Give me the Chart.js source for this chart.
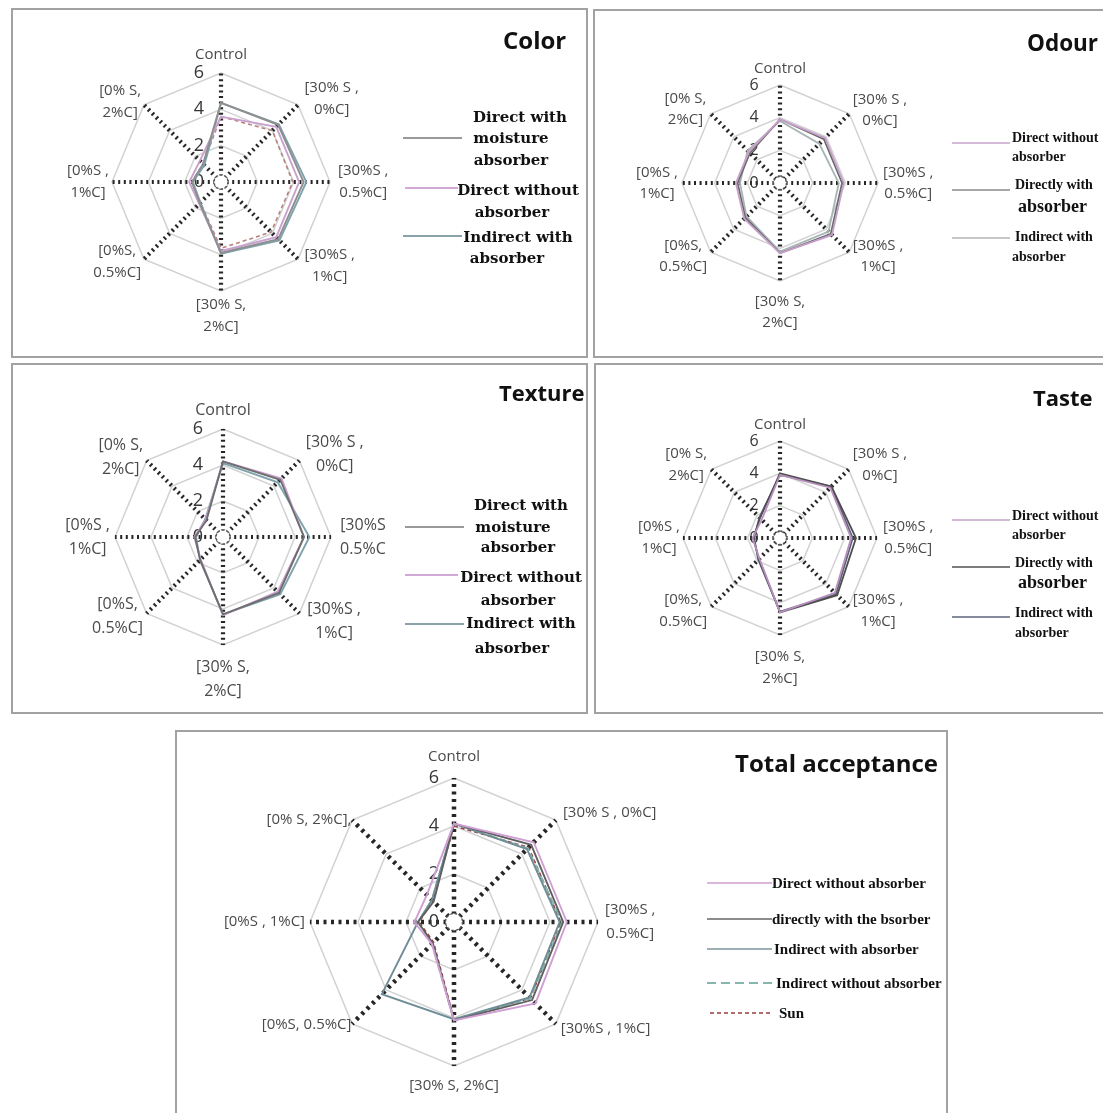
<!DOCTYPE html>
<html>
<head>
<meta charset="utf-8">
<script src="https://cdn.jsdelivr.net/npm/chart.js@4/dist/chart.umd.min.js"></script>
<style>
html,body{margin:0;padding:0;background:#fff;width:1103px;height:1113px;overflow:hidden;position:relative;}
.box{position:absolute;border:2px solid #a2a2a2;box-sizing:border-box;}
canvas{position:absolute;}
.t{position:absolute;white-space:nowrap;line-height:1.2;color:#111;}
svg{position:absolute;left:0;top:0;}
</style>
</head>
<body>
<script>
// ---------------- DATA ----------------
const scaleTicks = [0, 2, 4, 6];

const categories = ["Control", ["[30% S ,", "0%C]"], ["[30%S ,", "0.5%C]"], ["[30%S ,", "1%C]"], ["[30% S,", "2%C]"], ["[0%S,", "0.5%C]"], ["[0%S ,", "1%C]"], ["[0% S,", "2%C]"]];
const categoriesTexture = ["Control", ["[30% S ,", "0%C]"], ["[30%S", "0.5%C"], ["[30%S ,", "1%C]"], ["[30% S,", "2%C]"], ["[0%S,", "0.5%C]"], ["[0%S ,", "1%C]"], ["[0% S,", "2%C]"]];
const categoriesTotal = ["Control", "[30% S , 0%C]", ["[30%S ,", "0.5%C]"], "[30%S , 1%C]", "[30% S, 2%C]", "[0%S, 0.5%C]", "[0%S , 1%C]", "[0% S, 2%C],"];

const colorDirectWithMoisture = [4.35, 4.45, 4.55, 4.45, 3.9, 1.65, 1.6, 1.4];
const colorDirectWithout      = [3.6, 4.3, 4.3, 4.3, 3.8, 1.7, 1.75, 1.65];
const colorIndirectWith       = [4.35, 4.5, 4.7, 4.55, 3.95, 1.6, 1.55, 1.3];
const colorSun                = [3.6, 4.0, 3.95, 3.9, 3.65, 1.6, 1.6, 1.4];

const odourDirectWithout = [3.9, 3.9, 3.9, 4.5, 4.3, 3.1, 2.7, 2.7];
const odourDirectlyWith  = [3.9, 3.8, 3.8, 4.4, 4.3, 3.0, 2.6, 2.6];
const odourIndirectWith  = [3.8, 3.4, 3.6, 4.2, 4.2, 2.9, 2.45, 2.8];

const textureDirectWithMoisture = [4.2, 4.5, 4.5, 4.4, 4.3, 1.8, 1.55, 1.3];
const textureDirectWithout      = [4.2, 4.6, 4.5, 4.3, 4.35, 1.75, 1.6, 1.35];
const textureIndirectWith       = [4.1, 4.3, 4.8, 4.5, 4.3, 1.8, 1.5, 1.4];

const tasteDirectWithout = [3.9, 4.4, 4.4, 4.8, 4.6, 1.8, 1.7, 1.6];
const tasteDirectlyWith  = [4.0, 4.5, 4.7, 5.0, 4.6, 1.85, 1.65, 1.75];
const tasteIndirectWith  = [3.9, 4.5, 4.5, 4.9, 4.55, 1.9, 1.6, 1.8];

const totalDirectWithout   = [4.1, 4.7, 4.7, 4.8, 4.1, 1.3, 1.65, 1.6];
const totalDirectlyWith    = [4.1, 4.55, 4.55, 4.6, 4.1, 1.25, 1.5, 1.2];
const totalIndirectWith    = [4.1, 4.3, 4.4, 4.45, 4.05, 4.25, 1.5, 1.3];
const totalIndirectWithout = [4.1, 4.35, 4.5, 4.5, 4.1, 1.3, 1.5, 1.3];
const totalSun             = [4.0, 4.4, 4.45, 4.5, 4.05, 1.2, 1.45, 1.25];

// ---------------- DECORATION PLUGIN ----------------
const decor = {
  id: 'decor',
  beforeDatasetsDraw(chart, args, o) {
    const s = chart.scales.r, ctx = chart.ctx;
    ctx.save();
    // center hole
    ctx.beginPath();
    ctx.arc(s.xCenter, s.yCenter, o.hole, 0, Math.PI * 2);
    ctx.fillStyle = '#fff';
    ctx.fill();
    ctx.setLineDash([2.5, 2]);
    ctx.lineWidth = 1.4;
    ctx.strokeStyle = '#555';
    ctx.stroke();
    ctx.setLineDash([]);
    // tick labels
    ctx.font = o.tickSize + "px 'Open Sans'";
    ctx.fillStyle = '#363636';
    ctx.textAlign = 'center';
    ctx.textBaseline = 'middle';
    s.ticks.forEach(t => {
      const d = s.getDistanceFromCenterForValue(t.value);
      ctx.fillText(String(t.value), s.xCenter + o.tickDx, s.yCenter - d);
    });
    // point labels
    ctx.font = o.labelSize + "px 'Open Sans'";
    ctx.fillStyle = '#4a4a4a';
    const labels = chart.data.labels, n = labels.length, lh = o.lh;
    labels.forEach((lab, i) => {
      const lines = Array.isArray(lab) ? lab : [lab];
      const p = s.getPointPosition(i, s.drawingArea + o.pads[i]);
      const bw = Math.max(...lines.map(t => ctx.measureText(t).width));
      const bh = lines.length * lh;
      let left, top;
      if (i === 0) { left = p.x - bw / 2; top = p.y - bh; }
      else if (2 * i === n) { left = p.x - bw / 2; top = p.y; }
      else if (i < n / 2) { left = p.x; top = p.y - bh / 2; }
      else { left = p.x - bw; top = p.y - bh / 2; }
      lines.forEach((t, k) => ctx.fillText(t, left + bw / 2, top + lh * (k + 0.5)));
    });
    ctx.restore();
  }
};

function ds(label, data, color, width, dash) {
  return { label, data, borderColor: color, backgroundColor: 'transparent', fill: false,
           borderWidth: width, borderDash: dash || [], pointRadius: 0, tension: 0 };
}

function makeRadar(p) {
  const c = document.createElement('canvas');
  c.width = p.w; c.height = p.h;
  c.style.left = p.x + 'px'; c.style.top = p.y + 'px';
  c.style.width = p.w + 'px'; c.style.height = p.h + 'px';
  document.body.appendChild(c);
  const padding = {
    left: p.cx - p.R - p.x, top: p.cy - p.R - p.y,
    right: p.x + p.w - (p.cx + p.R), bottom: p.y + p.h - (p.cy + p.R)
  };
  new Chart(c, {
    type: 'radar',
    data: { labels: p.labels, datasets: p.datasets },
    options: {
      responsive: false, animation: false, devicePixelRatio: 1,
      layout: { padding },
      plugins: { legend: { display: false }, tooltip: { enabled: false }, title: { display: false },
                 decor: p.decor },
      scales: { r: {
        min: scaleTicks[0], max: scaleTicks[scaleTicks.length - 1],
        ticks: { stepSize: scaleTicks[1] - scaleTicks[0], display: false },
        grid: { color: '#d2d2d2', lineWidth: 1.5 },
        angleLines: { color: '#262626', lineWidth: p.axisW, borderDash: p.axisDash },
        pointLabels: { display: false }
      } }
    },
    plugins: [decor]
  });
}

// ---------------- HTML helpers ----------------
function box(x, y, w, h) {
  const d = document.createElement('div');
  d.className = 'box';
  Object.assign(d.style, { left: x + 'px', top: y + 'px', width: w + 'px', height: h + 'px' });
  document.body.appendChild(d);
}
function txt(s, x, y, font, align) {
  const d = document.createElement('div');
  d.className = 't';
  d.textContent = s;
  d.style.font = font;
  d.style.lineHeight = '1.2';
  d.style.left = x + 'px';
  d.style.top = y + 'px';
  d.style.transform = align === 'center' ? 'translate(-50%,-50%)' : 'translate(0,-50%)';
  d.style.zIndex = 3;
  document.body.appendChild(d);
}
const svgNS = 'http://www.w3.org/2000/svg';
const svg = document.createElementNS(svgNS, 'svg');
svg.setAttribute('width', 1103); svg.setAttribute('height', 1113);
svg.style.zIndex = 2;
function lgLine(x1, x2, y, color, w, dash) {
  const l = document.createElementNS(svgNS, 'line');
  l.setAttribute('x1', x1); l.setAttribute('x2', x2);
  l.setAttribute('y1', y); l.setAttribute('y2', y);
  l.setAttribute('stroke', color); l.setAttribute('stroke-width', w);
  if (dash) l.setAttribute('stroke-dasharray', dash);
  svg.appendChild(l);
}

// ---------------- PANELS ----------------
box(11, 8, 577, 350);
box(593, 9, 520, 349);
box(11, 363, 577, 351);
box(594, 363, 520, 351);
box(175, 730, 773, 400);

makeRadar({ x: 13, y: 10, w: 573, h: 346, cx: 221, cy: 182, R: 109, axisW: 4.2, axisDash: [2, 3.6],
  labels: categories,
  datasets: [
    ds('Direct with moisture absorber', colorDirectWithMoisture, '#8e8e8e', 1.9),
    ds('Direct without absorber', colorDirectWithout, '#c9a0cf', 1.9),
    ds('Indirect with absorber', colorIndirectWith, '#7ea3ad', 1.9),
    ds('Sun', colorSun, '#b98282', 1.6, [4, 3])
  ],
  decor: { hole: 7, tickSize: 18, tickDx: -22, labelSize: 15, lh: 22, pads: [7, 9, 8, 9, 3, 4, 3, 4] } });

makeRadar({ x: 595, y: 11, w: 508, h: 345, cx: 780, cy: 183, R: 98, axisW: 4.2, axisDash: [2, 3.6],
  labels: categories,
  datasets: [
    ds('Direct without absorber', odourDirectWithout, '#c79fcb', 1.8),
    ds('Directly with absorber', odourDirectlyWith, '#6a6a6a', 1.8),
    ds('Indirect with absorber', odourIndirectWith, '#a9b4b6', 1.8)
  ],
  decor: { hole: 6.5, tickSize: 16, tickDx: -26, labelSize: 15, lh: 21, pads: [6, 5, 5, 5, 10, 5, 4, 6] } });

makeRadar({ x: 13, y: 365, w: 573, h: 347, cx: 223, cy: 537, R: 108, axisW: 4.2, axisDash: [2, 3.6],
  labels: categoriesTexture,
  datasets: [
    ds('Direct with moisture absorber', textureDirectWithMoisture, '#6e6e6e', 1.9),
    ds('Direct without absorber', textureDirectWithout, '#c9a0cf', 1.9),
    ds('Indirect with absorber', textureIndirectWith, '#7ea3ad', 1.9)
  ],
  decor: { hole: 7, tickSize: 18, tickDx: -25, labelSize: 16, lh: 24, pads: [7, 9, 9, 11, 10, 5, 5, 5] } });

makeRadar({ x: 596, y: 365, w: 507, h: 347, cx: 780, cy: 538, R: 97, axisW: 4.2, axisDash: [2, 3.6],
  labels: categories,
  datasets: [
    ds('Direct without absorber', tasteDirectWithout, '#b98fc0', 1.8),
    ds('Directly with absorber', tasteDirectlyWith, '#4e4e4e', 1.8),
    ds('Indirect with absorber', tasteIndirectWith, '#5d6579', 1.8)
  ],
  decor: { hole: 6.5, tickSize: 16, tickDx: -26, labelSize: 15, lh: 22, pads: [5, 6, 6, 6, 11, 6, 3, 6] } });

makeRadar({ x: 177, y: 732, w: 769, h: 381, cx: 454, cy: 922, R: 144, axisW: 4.5, axisDash: [3, 4.5],
  labels: categoriesTotal,
  datasets: [
    ds('Direct without absorber', totalDirectWithout, '#cf9fd3', 1.9),
    ds('directly with the bsorber', totalDirectlyWith, '#5f5f5f', 1.9),
    ds('Indirect with absorber', totalIndirectWith, '#6f8d97', 1.9),
    ds('Indirect without absorber', totalIndirectWithout, '#86b6ad', 1.8, [8, 4]),
    ds('Sun', totalSun, '#9b3b3b', 1.5, [4, 3])
  ],
  decor: { hole: 8.5, tickSize: 18, tickDx: -20, labelSize: 15, lh: 24, pads: [9, 10, 7, 7, 8, 1, 5, 1] } });

document.body.appendChild(svg);

// ---------------- TITLES ----------------
const TF = "700 24px 'Open Sans'";
txt('Color', 503, 40, TF, 'left');
txt('Odour', 1027, 42, "700 22.5px 'Open Sans'", 'left');
txt('Texture', 499, 392, "700 22px 'Open Sans'", 'left');
txt('Taste', 1033, 397, "700 22px 'Open Sans'", 'left');
txt('Total acceptance', 735, 763, TF, 'left');

// ---------------- LEGENDS ----------------
const LF1 = "700 15px 'DejaVu Serif'";
// Color
lgLine(403, 462, 138, '#9a9a9a', 2);
lgLine(405, 458, 188, '#d2a9d6', 2);
lgLine(403, 462, 236, '#8aa3ab', 2);
txt('Direct with', 520, 117, LF1, 'center');
txt('moisture', 511, 138, LF1, 'center');
txt('absorber', 511, 160, LF1, 'center');
txt('Direct without', 518, 190, LF1, 'center');
txt('absorber', 512, 212, LF1, 'center');
txt('Indirect with', 518, 237, LF1, 'center');
txt('absorber', 507, 258, LF1, 'center');
// Texture
lgLine(405, 464, 527, '#9a9a9a', 2);
lgLine(405, 458, 575, '#d2a9d6', 2);
lgLine(405, 464, 624, '#8aa3ab', 2);
txt('Direct with', 521, 505, LF1, 'center');
txt('moisture', 513, 527, LF1, 'center');
txt('absorber', 518, 547, LF1, 'center');
txt('Direct without', 521, 577, LF1, 'center');
txt('absorber', 518, 600, LF1, 'center');
txt('Indirect with', 521, 623, LF1, 'center');
txt('absorber', 512, 648, LF1, 'center');

const LF2 = "700 14px 'Liberation Serif'";
const LF2b = "700 18px 'Liberation Serif'";
// Odour
lgLine(952, 1010, 143, '#c9a3cd', 1.6);
lgLine(952, 1010, 190, '#8a8a8a', 1.6);
lgLine(952, 1010, 238, '#b4b4b4', 1.6);
txt('Direct without', 1012, 138, LF2, 'left');
txt('absorber', 1012, 157, LF2, 'left');
txt('Directly with', 1015, 185, LF2, 'left');
txt('absorber', 1018, 207, LF2b, 'left');
txt('Indirect with', 1015, 237, LF2, 'left');
txt('absorber', 1012, 257, LF2, 'left');
// Taste
lgLine(952, 1010, 520, '#c3a3c6', 1.6);
lgLine(952, 1010, 567, '#505050', 1.6);
lgLine(952, 1010, 617, '#5d6579', 1.6);
txt('Direct without', 1012, 516, LF2, 'left');
txt('absorber', 1012, 535, LF2, 'left');
txt('Directly with', 1015, 563, LF2, 'left');
txt('absorber', 1018, 583, LF2b, 'left');
txt('Indirect with', 1015, 613, LF2, 'left');
txt('absorber', 1015, 633, LF2, 'left');

const LF3 = "700 15px 'Liberation Serif'";
// Total
lgLine(707, 772, 883, '#cf9fd3', 1.6);
lgLine(707, 772, 919, '#666', 1.6);
lgLine(707, 772, 949, '#7a949c', 1.6);
lgLine(707, 774, 983, '#86b6ad', 1.8, '9 5');
lgLine(710, 772, 1013, '#9b3b3b', 1.6, '4 3');
txt('Direct without absorber', 772, 883, LF3, 'left');
txt('directly with the bsorber', 772, 919, LF3, 'left');
txt('Indirect with absorber', 774, 949, LF3, 'left');
txt('Indirect without absorber', 776, 983, LF3, 'left');
txt('Sun', 779, 1013, LF3, 'left');
</script>
</body>
</html>
